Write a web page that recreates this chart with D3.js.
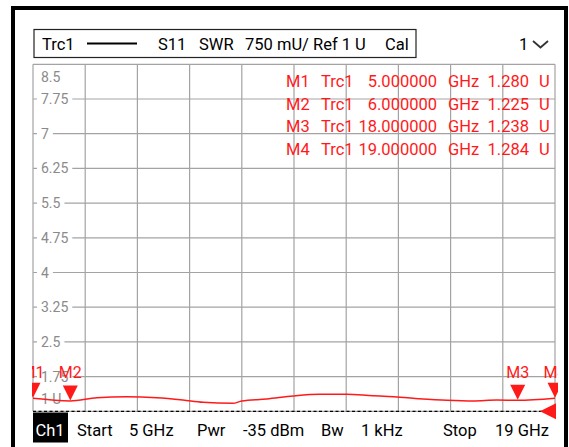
<!DOCTYPE html>
<html><head><meta charset="utf-8">
<script src="https://cdn.jsdelivr.net/npm/d3@7"></script>
<style>
html,body{margin:0;padding:0;background:#fff;}
svg{display:block;font-family:Roboto,"Open Sans",sans-serif;}
</style></head>
<body>
<svg id="c" width="569" height="447"></svg>
<script>
// ---- data ----
const freqGHz = [5.00, 6.00, 6.71, 7.51, 8.32, 9.02, 9.56, 10.36, 10.60, 11.27, 11.98, 12.70, 13.41, 14.12, 14.31, 15.19, 16.10, 16.80, 17.44, 18.00, 19.00];
const swr     = [1.280, 1.225, 1.294, 1.316, 1.294, 1.244, 1.195, 1.173, 1.223, 1.266, 1.331, 1.367, 1.367, 1.337, 1.331, 1.281, 1.238, 1.223, 1.244, 1.238, 1.284];
const yTickValues = [1, 1.75, 2.5, 3.25, 4, 4.75, 5.5, 6.25, 7, 7.75, 8.5];
const yTickLabels = ["1 U", "1.75", "2.5", "3.25", "4", "4.75", "5.5", "6.25", "7", "7.75", "8.5"];
const markerNames = ["M1", "M2", "M3", "M4"];
const markerFreqs = [5, 6, 18, 19];
const markerFreqText = ["5.000000", "6.000000", "18.000000", "19.000000"];
const markerValues = [1.280, 1.225, 1.238, 1.284];
const markerValueText = ["1.280", "1.225", "1.238", "1.284"];
const legendItems = ["S11", "SWR", "750 mU/ Ref 1 U", "Cal"];
const footerItems = ["Start", "5 GHz", "Pwr", "-35 dBm", "Bw", "1 kHz", "Stop", "19 GHz"];

// ---- layout ----
const svg = d3.select("#c");
const L = 33, R = 555, T = 64.3, B = 411.3;
const x = d3.scaleLinear().domain([5, 19]).range([L, R]);
const y = d3.scaleLinear().domain([1, 8.5]).range([B, T]);
const red = "#ff1a1a";
const gray = "#a3a3a3";

// outer frame
svg.append("rect").attr("x", 13).attr("y", 8).attr("width", 553).attr("height", 470)
  .attr("fill", "none").attr("stroke", "#000").attr("stroke-width", 4);

// legend box
svg.append("rect").attr("x", 34).attr("y", 29.5).attr("width", 382).attr("height", 28)
  .attr("fill", "#fff").attr("stroke", "#222").attr("stroke-width", 1.2);
svg.append("text").attr("x", 42).attr("y", 50).attr("font-size", 16.5).attr("fill", "#000").text("Trc1");
svg.append("line").attr("x1", 87).attr("x2", 137).attr("y1", 43.5).attr("y2", 43.5)
  .attr("stroke", "#000").attr("stroke-width", 2);
const legX = [158, 199, 245, 385];
legendItems.forEach((t, i) => {
  svg.append("text").attr("x", legX[i]).attr("y", 50).attr("font-size", 16.5).attr("fill", "#000").text(t);
});
svg.append("text").attr("x", 519).attr("y", 50).attr("font-size", 16.5).attr("fill", "#000").text("1");
svg.append("path").attr("d", "M533,41 L540.5,47.5 L548,41").attr("fill", "none")
  .attr("stroke", "#333").attr("stroke-width", 1.8);

// grid
const g = svg.append("g");
const xDivs = d3.range(11).map(i => 5 + i * 1.4);
g.selectAll("line.v").data(xDivs).join("line")
  .attr("x1", d => x(d)).attr("x2", d => x(d)).attr("y1", T).attr("y2", B)
  .attr("stroke", gray).attr("stroke-width", 1.2);
g.selectAll("line.h").data(yTickValues).join("line")
  .attr("x1", L).attr("x2", R).attr("y1", d => y(d)).attr("y2", d => y(d))
  .attr("stroke", gray).attr("stroke-width", 1.2);

// y labels
const labG = svg.append("g");
yTickValues.forEach((v, i) => {
  let cy = y(v);
  if (i === yTickValues.length - 1) cy = y(v) + 13;
  if (i === 0) cy = y(v) - 12.5;
  const t = labG.append("text").attr("x", 41).attr("y", cy + 5).attr("font-size", 14)
    .attr("fill", "#8a8a8a").text(yTickLabels[i]);
  const w = t.node().getComputedTextLength();
  if (i !== 0 && i !== yTickValues.length - 1) {
    labG.insert("rect", "text").attr("x", 37).attr("y", cy - 2).attr("width", w + 8).attr("height", 4).attr("fill", "#fff");
  }
});

// reference dashed line
svg.append("line").attr("x1", L).attr("x2", R).attr("y1", B).attr("y2", B)
  .attr("stroke", "#000").attr("stroke-width", 1.2).attr("stroke-dasharray", "3,2.5");

// clip
svg.append("clipPath").attr("id", "clip").append("rect")
  .attr("x", 32).attr("y", T - 5).attr("width", 526).attr("height", B - T + 5);

// trace
const pts = freqGHz.map((f, i) => [f, swr[i]]);
svg.append("path").datum(pts)
  .attr("d", d3.line().x(d => x(d[0])).y(d => y(d[1])).curve(d3.curveMonotoneX))
  .attr("fill", "none").attr("stroke", red).attr("stroke-width", 1.5)
  .attr("clip-path", "url(#clip)");

// markers
const mk = svg.append("g").attr("clip-path", "url(#clip)");
markerFreqs.forEach((f, i) => {
  const px = x(f), py = y(markerValues[i]) - 0.5;
  mk.append("path").attr("d", `M${px},${py} L${px - 7.5},${py - 15} L${px + 7.5},${py - 15} Z`).attr("fill", red);
  mk.append("text").attr("x", px).attr("y", 378).attr("text-anchor", "middle")
    .attr("font-size", 16).attr("fill", red).text(markerNames[i]);
});

// marker table
const rowY = [87, 109.7, 132.4, 155];
markerNames.forEach((m, i) => {
  const r = svg.append("g").attr("fill", red).attr("font-size", 16.5);
  r.append("text").attr("x", 286).attr("y", rowY[i]).text(m);
  r.append("text").attr("x", 321).attr("y", rowY[i]).text("Trc1");
  r.append("text").attr("x", 437).attr("y", rowY[i]).attr("text-anchor", "end").text(markerFreqText[i]);
  r.append("text").attr("x", 448).attr("y", rowY[i]).text("GHz");
  r.append("text").attr("x", 529).attr("y", rowY[i]).attr("text-anchor", "end").text(markerValueText[i]);
  r.append("text").attr("x", 539).attr("y", rowY[i]).text("U");
});

// reference triangle
svg.append("path").attr("d", `M540,${B} L556,${B - 8} L556,${B + 8} Z`).attr("fill", red);

// footer
svg.append("rect").attr("x", 33).attr("y", 412.5).attr("width", 35).attr("height", 30).attr("fill", "#000");
svg.append("text").attr("x", 35.5).attr("y", 436).attr("font-size", 16.5).attr("fill", "#fff").text("Ch1");
const footX = [77, 129, 197, 243, 321, 361, 443, 495];
footerItems.forEach((t, i) => {
  svg.append("text").attr("x", footX[i]).attr("y", 436).attr("font-size", 16.5).attr("fill", "#000").text(t);
});
</script>
</body></html>
